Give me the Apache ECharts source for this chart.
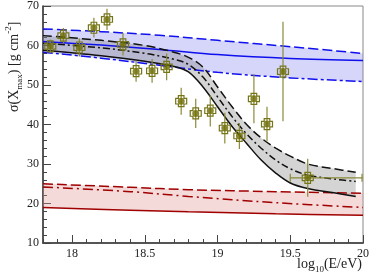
<!DOCTYPE html>
<html><head><meta charset="utf-8">
<script src="https://cdn.jsdelivr.net/npm/echarts@6/dist/echarts.min.js"></script>
<style>html,body{margin:0;padding:0;background:#fff}#c{width:374px;height:278px}</style>
</head><body><div id="c"></div>
<script>
// ---- data ----
const energy    = [17.85,17.94,18.05,18.15,18.24,18.35,18.44,18.55,18.65,18.75,18.85,18.95,19.05,19.15,19.25,19.34,19.45,19.62];
const sigmaXmax = [59.8,62.5,59.5,64.5,66.6,60.3,53.5,53.6,54.6,45.9,42.8,43.5,39.1,37.1,46.5,40.1,53.4,26.5];
const statErr   = [1.7,1.9,2.3,2.5,2.7,2.8,2.7,3.0,3.4,3.4,3.7,4.0,3.9,3.3,6.2,4.4,12.6,4.8];
const energyLow  = [null,null,null,null,null,null,null,null,null,null,null,null,null,null,null,null,null,19.5];
const energyHigh = [null,null,null,null,null,null,null,null,null,null,null,null,null,null,null,null,null,20.0];

const blueX     = [17.8,18.2,18.6,19.0,19.5,20.0];
const blueUpper = [64.2,63.5,62.6,61.3,59.7,58.0];
const blueMid   = [61.0,60.1,59.0,57.7,56.7,56.2];
const blueLower = [58.3,56.8,55.0,53.2,51.8,50.9];

const blackX     = [17.8,18.2,18.5,18.7,18.8,18.9,19.0,19.1,19.2,19.3,19.4,19.5,19.62,19.8,19.95];
const blackUpper = [62.5,61.3,60.0,58.3,57.0,54.5,49.5,44.5,40.0,36.6,34.0,32.0,30.0,28.8,27.9];
const blackMid   = [60.6,59.4,58.0,56.5,55.2,52.0,47.0,42.0,37.6,34.0,31.0,28.8,27.2,26.2,25.6];
const blackLower = [58.8,57.4,56.0,54.7,53.3,49.5,44.5,39.5,35.2,31.0,27.7,25.2,23.8,22.7,21.8];

const redX     = [17.8,18.4,18.8,19.4,20.0];
const redUpper = [25.0,24.1,23.5,23.0,22.6];
const redMid   = [24.2,23.0,21.8,20.2,19.0];
const redLower = [19.0,18.3,17.9,17.4,17.0];

const xTickLabels = [18,18.5,19,19.5,20];
const yTickLabels = [10,20,30,40,50,60,70];

// ---- chart ----
const chart = echarts.init(document.getElementById('c'), null, {renderer:'canvas'});
const serif = 'Liberation Serif, Times New Roman, serif';

function pairs(xs, ys){ return xs.map((x,i)=>[x,ys[i]]); }
function band(xs, lo, hi, fill, z){
  return {type:'custom', silent:true, z:z, data:[0],
    renderItem:(p,api)=>{
      const pts=[];
      for(let i=0;i<xs.length;i++) pts.push(api.coord([xs[i],hi[i]]));
      for(let i=xs.length-1;i>=0;i--) pts.push(api.coord([xs[i],lo[i]]));
      return {type:'polygon', shape:{points:pts}, style:{fill:fill}};
    }};
}
function line(xs, ys, color, dash, z){
  return {type:'line', data:pairs(xs,ys), smooth:0.35, symbol:'none', silent:true, z:z,
    lineStyle:{color:color, width:1.5, type:dash}};
}

const errData = energy.map((x,i)=>[x, sigmaXmax[i], statErr[i], energyLow[i], energyHigh[i]]);
const olive = '#6b6b00', oliveLine = '#8a8a3a', boxCol = '#75751a';

const option = {
  animation:false,
  grid:{left:43, right:11, top:6, bottom:35, show:true, borderColor:'#888', borderWidth:1, backgroundColor:'transparent'},
  xAxis:[
    {type:'value', min:17.8, max:20, interval:0.1,
     axisLine:{lineStyle:{color:'#555', width:2}},
     axisTick:{inside:true, length:4, lineStyle:{color:'#444'}},
     axisLabel:{customValues:xTickLabels, color:'#222', fontFamily:serif, fontSize:12, margin:5},
     splitLine:{show:false}},
    {type:'value', min:17.8, max:20, position:'bottom',
     axisLine:{show:false},
     axisTick:{inside:true, length:8, customValues:xTickLabels, lineStyle:{color:'#444'}},
     axisLabel:{show:false}, splitLine:{show:false}}
  ],
  yAxis:[
    {type:'value', min:10, max:70, interval:2,
     axisLine:{lineStyle:{color:'#333', width:1.5}},
     axisTick:{inside:true, length:4, lineStyle:{color:'#444'}},
     axisLabel:{customValues:yTickLabels, color:'#222', fontFamily:serif, fontSize:12, margin:4},
     splitLine:{show:false}},
    {type:'value', min:10, max:70, interval:10, position:'left',
     axisLine:{show:false},
     axisTick:{inside:true, length:8, lineStyle:{color:'#444'}},
     axisLabel:{show:false}, splitLine:{show:false}}
  ],
  graphic:[
    {type:'text', x:4, y:112, rotation:Math.PI/2,
     style:{text:'{n|σ(X}{s|max}{n|) [g cm}{p|-2}{n|]}', fill:'#222',
       rich:{n:{fontFamily:serif, fontSize:14, lineHeight:20, verticalAlign:'middle'},
             s:{fontFamily:serif, fontSize:9, lineHeight:20, verticalAlign:'bottom', padding:[6,0,0,0]},
             p:{fontFamily:serif, fontSize:9, lineHeight:20, verticalAlign:'top', padding:[0,0,6,0]}}}},
    {type:'text', right:12, top:257,
     style:{text:'{n|log}{s|10}{n|(E/eV)}', fill:'#222',
       rich:{n:{fontFamily:serif, fontSize:14, lineHeight:20, verticalAlign:'middle'},
             s:{fontFamily:serif, fontSize:9, lineHeight:20, verticalAlign:'bottom', padding:[6,0,0,0]}}}}
  ],
  series:[
    band(redX, redLower, redUpper, 'rgba(225,150,150,0.35)', 1),
    band(blueX, blueLower, blueUpper, 'rgba(120,120,240,0.30)', 1),
    band(blackX, blackLower, blackUpper, 'rgba(120,120,120,0.32)', 2),
    line(redX, redUpper, '#a00000', [10,4], 3),
    line(redX, redMid, '#a00000', [10,4,2,4], 3),
    line(redX, redLower, '#a00000', 'solid', 3),
    line(blueX, blueUpper, '#1010ee', [10,4], 3),
    line(blueX, blueMid, '#1010ee', 'solid', 3),
    line(blueX, blueLower, '#1010ee', [10,3,3,3], 3),
    line(blackX, blackUpper, '#111', [9,4], 4),
    line(blackX, blackMid, '#111', [7,3,2,3], 4),
    line(blackX, blackLower, '#111', 'solid', 4),
    {type:'custom', z:6, silent:true, data:errData,
     renderItem:(p,api)=>{
       const x=api.value(0), y=api.value(1), e=api.value(2);
       const c=api.coord([x,y]), t=api.coord([x,y+e]), b=api.coord([x,y-e]);
       const w=5.5, a=2.8;
       const cx=c[0], cy=c[1];
       const pts=[[cx-a,cy-w],[cx+a,cy-w],[cx+a,cy-a],[cx+w,cy-a],[cx+w,cy+a],[cx+a,cy+a],[cx+a,cy+w],[cx-a,cy+w],[cx-a,cy+a],[cx-w,cy+a],[cx-w,cy-a],[cx-a,cy-a]];
       const ch=[
         {type:'line', shape:{x1:t[0],y1:t[1],x2:b[0],y2:b[1]}, style:{stroke:oliveLine, lineWidth:1.2}},
         {type:'polygon', shape:{points:pts}, style:{fill:'rgba(255,255,255,0)', stroke:boxCol, lineWidth:1.2}}
       ];
       const lo=api.value(3), hi=api.value(4);
       if(!isNaN(lo) && lo!==null && !isNaN(hi)){
         const l=api.coord([lo,y]), r=api.coord([hi,y]);
         ch.push({type:'line', shape:{x1:l[0],y1:l[1],x2:r[0],y2:r[1]}, style:{stroke:oliveLine, lineWidth:1.2}});
         ch.push({type:'line', shape:{x1:l[0],y1:l[1]-4,x2:l[0],y2:l[1]+4}, style:{stroke:oliveLine, lineWidth:1.2}});
         ch.push({type:'line', shape:{x1:r[0]-1,y1:r[1]-4,x2:r[0]-1,y2:r[1]+4}, style:{stroke:oliveLine, lineWidth:1.2}});
       }
       return {type:'group', children:ch};
     }},
    {type:'scatter', z:7, silent:true, data:pairs(energy, sigmaXmax), symbol:'circle', symbolSize:7,
     itemStyle:{color:olive}}
  ]
};
chart.setOption(option);
</script>
</body></html>
